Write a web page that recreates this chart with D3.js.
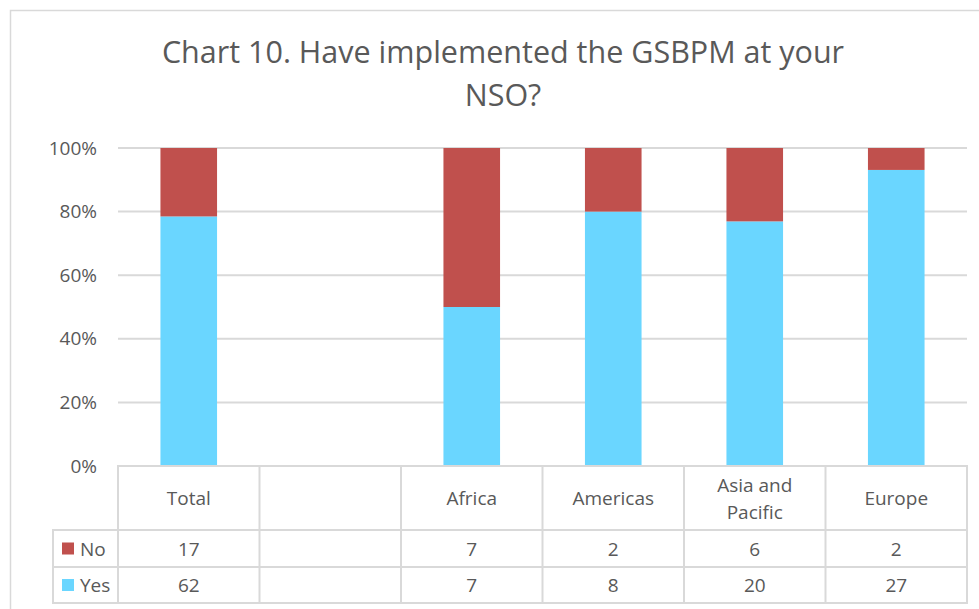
<!DOCTYPE html>
<html>
<head>
<meta charset="utf-8">
<script src="https://cdn.jsdelivr.net/npm/d3@7"></script>
<style>
  body { margin: 0; background: #fff; }
  text { font-family: "Open Sans", sans-serif; fill: #595959; }
</style>
</head>
<body>
<script>
// Data
var categories = ["Total", "", "Africa", "Americas", "Asia and Pacific", "Europe"];
var noCounts = [17, null, 7, 2, 6, 2];
var yesCounts = [62, null, 7, 8, 20, 27];
var yTicks = [0, 0.2, 0.4, 0.6, 0.8, 1];
var seriesNames = ["No", "Yes"];
var colors = { No: "#C0504D", Yes: "#6AD6FF" };

var svgWidth = 979, svgHeight = 609;

// plot area
var plot = { left: 118, right: 967, top: 148, bottom: 466 };
// table rows
var headerBottom = 530, noBottom = 567, yesBottom = 603, legendLeft = 53;

var svg = d3.select("body").append("svg")
  .attr("width", svgWidth)
  .attr("height", svgHeight);

// chart border
svg.append("rect")
  .attr("x", 10.5).attr("y", 10.5)
  .attr("width", 990).attr("height", 620)
  .attr("fill", "#fff")
  .attr("stroke", "#D9D9D9")
  .attr("stroke-width", 1.5);

// title
var title = svg.append("text")
  .attr("text-anchor", "middle")
  .style("font-size", "30.5px");
title.append("tspan").attr("x", 503).attr("y", 63)
  .text("Chart 10. Have implemented the GSBPM at your");
title.append("tspan").attr("x", 503).attr("y", 106)
  .text("NSO?");

var xScale = d3.scaleBand()
  .domain(d3.range(categories.length))
  .range([plot.left, plot.right])
  .padding(0);

var barScale = d3.scaleBand()
  .domain(d3.range(categories.length))
  .range([plot.left, plot.right])
  .paddingInner(0.6)
  .paddingOuter(0.3);

var yScale = d3.scaleLinear()
  .domain([0, 1])
  .range([plot.bottom, plot.top]);

// gridlines
svg.append("g")
  .selectAll("line")
  .data(yTicks.slice(1))
  .enter()
  .append("line")
  .attr("x1", plot.left).attr("x2", plot.right)
  .attr("y1", d => yScale(d)).attr("y2", d => yScale(d))
  .attr("stroke", "#D9D9D9")
  .attr("stroke-width", 2);

// y axis
var yAxis = d3.axisLeft(yScale)
  .tickValues(yTicks)
  .tickFormat(d3.format(".0%"))
  .tickSize(0)
  .tickPadding(21);
var yG = svg.append("g")
  .attr("transform", `translate(${plot.left},0)`)
  .call(yAxis);
yG.select(".domain").remove();
yG.selectAll("text")
  .style("font-size", "19px")
  .attr("fill", "#595959")
  .style("font-family", "'Open Sans', sans-serif");

// stacked 100% bars
var rows = categories.map(function(c, i) {
  var total = (noCounts[i] || 0) + (yesCounts[i] || 0);
  return {
    i: i,
    Yes: total ? yesCounts[i] / total : 0,
    No: total ? noCounts[i] / total : 0
  };
});
var stack = d3.stack().keys(["Yes", "No"]);
var layers = stack(rows);

svg.append("g")
  .selectAll("g")
  .data(layers)
  .enter()
  .append("g")
  .attr("fill", d => colors[d.key])
  .selectAll("rect")
  .data(d => d)
  .enter()
  .append("rect")
  .attr("x", d => barScale(d.data.i))
  .attr("width", barScale.bandwidth())
  .attr("y", d => yScale(d[1]))
  .attr("height", d => yScale(d[0]) - yScale(d[1]));

// data table
var tableG = svg.append("g");
var lineColor = "#D9D9D9";

function hline(x1, x2, y) {
  tableG.append("line").attr("x1", x1).attr("x2", x2).attr("y1", y).attr("y2", y)
    .attr("stroke", lineColor).attr("stroke-width", 2);
}
function vline(x, y1, y2) {
  tableG.append("line").attr("x1", x).attr("x2", x).attr("y1", y1).attr("y2", y2)
    .attr("stroke", lineColor).attr("stroke-width", 2);
}

hline(plot.left - 1, plot.right + 1, plot.bottom);
hline(legendLeft - 1, plot.right + 1, headerBottom);
hline(legendLeft - 1, plot.right + 1, noBottom);
hline(legendLeft - 1, plot.right + 1, yesBottom);
vline(legendLeft, headerBottom, yesBottom);
categories.forEach(function(c, i) { vline(xScale(i), plot.bottom, yesBottom); });
vline(plot.right, plot.bottom, yesBottom);

// category labels (wrapped)
categories.forEach(function(c, i) {
  var cx = xScale(i) + xScale.bandwidth() / 2;
  var t = tableG.append("text")
    .attr("text-anchor", "middle")
    .style("font-size", "19px");
  var words = c.split(" ");
  var lines = [], cur = [];
  words.forEach(function(w) {
    cur.push(w);
    t.text(cur.join(" "));
    if (t.node().getComputedTextLength() > xScale.bandwidth() - 20 && cur.length > 1) {
      cur.pop();
      lines.push(cur.join(" "));
      cur = [w];
    }
  });
  lines.push(cur.join(" "));
  t.text(null);
  var mid = (plot.bottom + headerBottom) / 2;
  var lh = 27;
  lines.forEach(function(l, k) {
    t.append("tspan")
      .attr("x", cx)
      .attr("y", mid + 7 + (k - (lines.length - 1) / 2) * lh)
      .text(l);
  });
});

// values rows
var rowData = [
  { name: seriesNames[0], values: noCounts, top: headerBottom, bottom: noBottom },
  { name: seriesNames[1], values: yesCounts, top: noBottom, bottom: yesBottom }
];
rowData.forEach(function(r) {
  var mid = (r.top + r.bottom) / 2;
  tableG.append("rect")
    .attr("x", 62).attr("y", mid - 6)
    .attr("width", 12).attr("height", 12)
    .attr("fill", colors[r.name]);
  tableG.append("text")
    .attr("x", 80).attr("y", mid + 7)
    .style("font-size", "19px")
    .text(r.name);
  r.values.forEach(function(v, i) {
    if (v == null) return;
    tableG.append("text")
      .attr("x", xScale(i) + xScale.bandwidth() / 2)
      .attr("y", mid + 7)
      .attr("text-anchor", "middle")
      .style("font-size", "19px")
      .text(v);
  });
});
</script>
</body>
</html>
